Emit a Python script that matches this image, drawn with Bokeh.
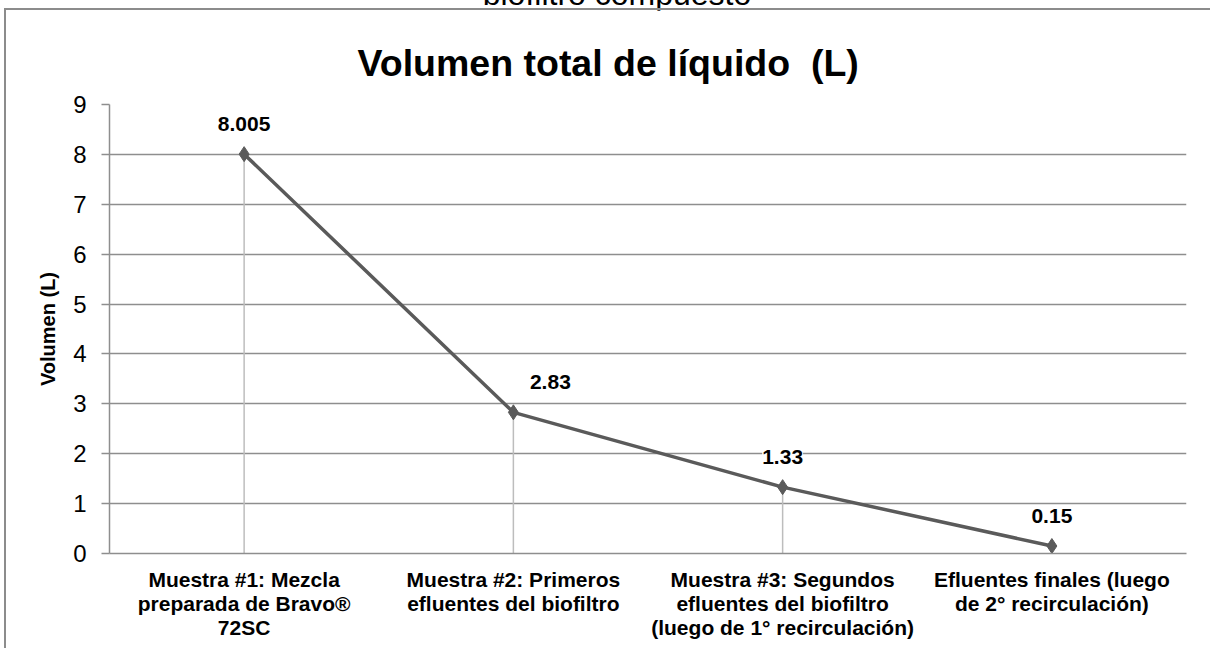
from bokeh.plotting import figure
from bokeh.models import ColumnDataSource, LabelSet, Div, FactorRange, FixedTicker, Range1d
from bokeh.layouts import column
from bokeh.core.properties import value
from bokeh.embed import file_html
from bokeh.resources import INLINE

# ---- data ----
categories = [
    "Muestra #1: Mezcla\npreparada de Bravo®\n72SC",
    "Muestra #2: Primeros\nefluentes del biofiltro",
    "Muestra #3: Segundos\nefluentes del biofiltro\n(luego de 1° recirculación)",
    "Efluentes finales (luego\nde 2° recirculación)",
]
volumes = [8.005, 2.83, 1.33, 0.15]
value_labels = ["8.005", "2.83", "1.33", "0.15"]
y_ticks = [0, 1, 2, 3, 4, 5, 6, 7, 8, 9]
title_text = "Volumen total de líquido \u00a0(L)"
top_text = "biofiltro compuesto"
y_label = "Volumen (L)"

# label horizontal nudges (screen px)
label_dx = [0, 37, 0, 0]

FONT = "Liberation Sans"
LINE_COL = "#5a5a5a"
GRID_COL = "#8e8e8e"

src = ColumnDataSource(dict(cat=categories, vol=volumes, lbl=value_labels, dx=label_dx))

p = figure(
    x_range=FactorRange(factors=categories),
    y_range=Range1d(0, 9),
    width=1206, height=640,
    output_backend="svg", toolbar_location=None,
    min_border_left=103, min_border_right=26,
    min_border_top=94, min_border_bottom=97,
)
p.styles = {"border-top": "2px solid #8c8c8c", "border-left": "2px solid #8c8c8c",
            "margin-left": "4px", "margin-bottom": "-8px"}

p.title.text = title_text
p.title.text_font = FONT
p.title.text_font_size = "37.5px"
p.title.text_font_style = "bold"
p.title.text_color = "black"
p.title.align = "left"
p.title.offset = 248
p.title.standoff = 41

p.outline_line_color = None
p.background_fill_color = "white"
p.border_fill_color = "white"
p.xgrid.visible = False
p.ygrid.grid_line_color = GRID_COL
p.ygrid.grid_line_width = 1.5

p.yaxis.ticker = FixedTicker(ticks=y_ticks)
p.yaxis.major_label_text_font = FONT
p.yaxis.major_label_text_font_size = "24px"
p.yaxis.major_label_text_color = "black"
p.yaxis.axis_line_color = GRID_COL
p.yaxis.axis_line_width = 1.5
p.yaxis.major_tick_line_color = GRID_COL
p.yaxis.major_tick_line_width = 1.5
p.yaxis.major_tick_out = 8
p.yaxis.major_tick_in = 0
p.yaxis.minor_tick_out = 0
p.yaxis.minor_tick_in = 0
p.yaxis.major_label_standoff = 15
p.yaxis.axis_label = y_label
p.yaxis.axis_label_text_font = FONT
p.yaxis.axis_label_text_font_size = "20px"
p.yaxis.axis_label_text_font_style = "bold"
p.yaxis.axis_label_text_color = "black"
p.yaxis.axis_label_standoff = 11

p.xaxis.major_label_text_font = FONT
p.xaxis.major_label_text_font_size = "21px"
p.xaxis.major_label_text_font_style = "bold"
p.xaxis.major_label_text_color = "black"
p.xaxis.major_label_text_line_height = 1.06
p.xaxis.axis_line_color = GRID_COL
p.xaxis.axis_line_width = 1.5
p.xaxis.major_tick_out = 0
p.xaxis.major_tick_in = 0
p.xaxis.minor_tick_out = 0
p.xaxis.major_label_standoff = 14

p.segment(x0="cat", y0=0, x1="cat", y1="vol", source=src, line_color="#bdbdbd", line_width=1.5)
p.line(x="cat", y="vol", source=src, line_color=LINE_COL, line_width=3.5)
p.scatter(x="cat", y="vol", source=src, marker="diamond", size=15,
          fill_color=LINE_COL, line_color=LINE_COL)

labels = LabelSet(x="cat", y="vol", text="lbl", source=src, x_offset="dx", y_offset=30,
                  text_align="center", text_baseline="middle",
                  text_font=value(FONT), text_font_size="21px", text_font_style="bold",
                  text_color="black", background_fill_color="white")
p.add_layout(labels)

div = Div(
    text=('<div style="font-family: \'Liberation Sans\', Arial, sans-serif; font-size: 32px; '
          'line-height: 32px; text-align: center; width: 1190px; white-space: nowrap; '
          'position: relative; left: 18px; color: black;">'
          + top_text + '</div>'),
    width=1190, height=25,
    styles={"margin-top": "-22px", "margin-left": "4px"},
)

layout = column(div, p)
open("out.html", "w").write(file_html(layout, INLINE))
